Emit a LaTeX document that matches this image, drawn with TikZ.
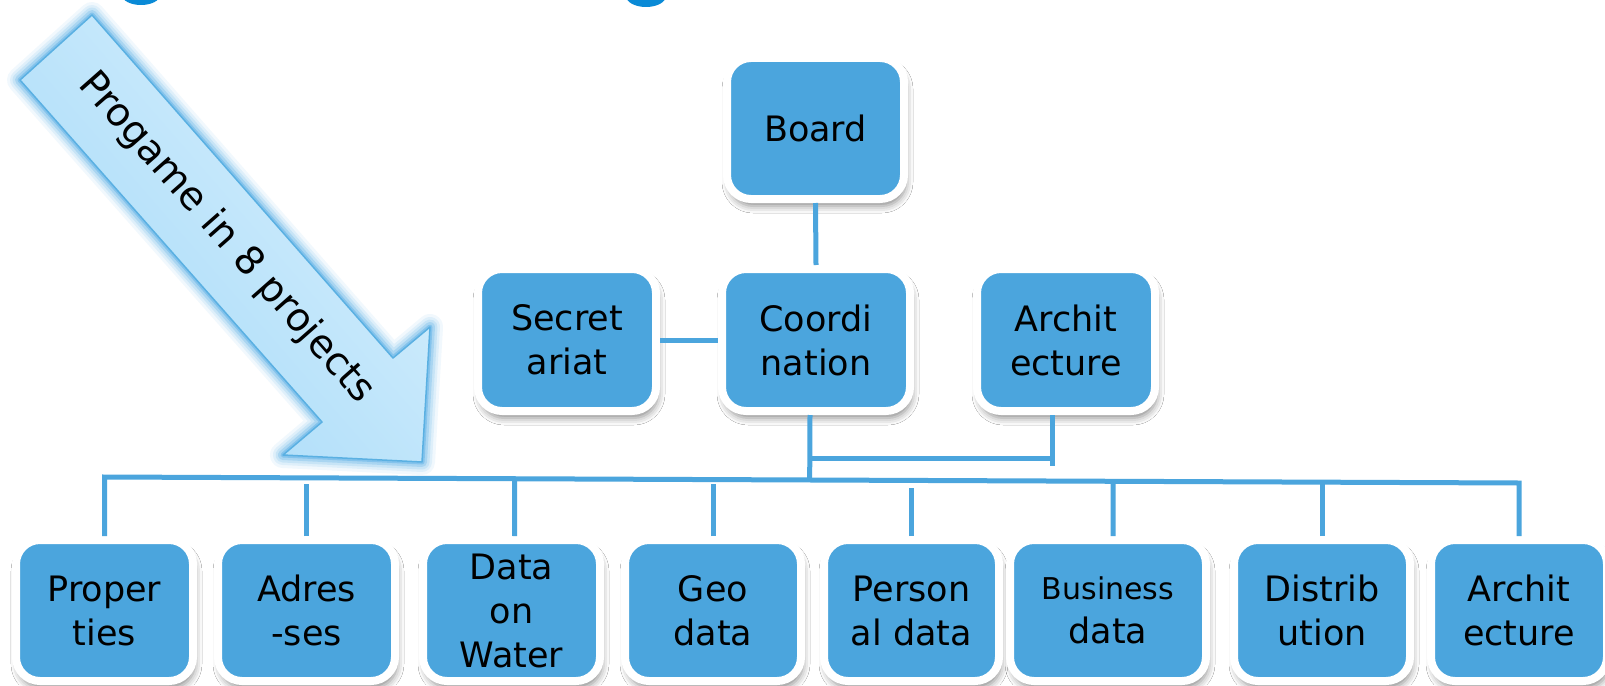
\documentclass[tikz,border=0pt]{standalone}
\usepackage{fontspec}
\setmainfont{DejaVu Sans}
\usetikzlibrary{shadows.blur,calc}
\definecolor{boxblue}{HTML}{4BA5DD}
\definecolor{arrowdark}{HTML}{A6DAF8}
\definecolor{arrowlight}{HTML}{D8F0FD}
\definecolor{arrowline}{HTML}{5AB0E2}
\definecolor{glowblue}{HTML}{3FA3E3}
\definecolor{titleblue}{HTML}{0A8AD6}
\begin{document}
\begin{tikzpicture}[x=1pt,y=-1pt,
  box/.style={rectangle, rounded corners=24pt, fill=boxblue, draw=white, line width=8pt,
    inner sep=0pt, align=center, text=black, font=\fontsize{35}{44}\selectfont,
    minimum width=178pt, minimum height=142pt,
    blur shadow={shadow xshift=2pt, shadow yshift=-7pt, shadow blur radius=7pt, shadow opacity=45}},
  conn/.style={draw=boxblue, line width=5pt}
  ]
\path[use as bounding box, fill=white] (0,0) rectangle (1605,685);

% cut-off title descenders
\fill[titleblue] (141,-5) ellipse [x radius=19pt, y radius=10pt];
\fill[titleblue] (646,-4) ellipse [x radius=20pt, y radius=11pt];

% big arrow with glow
\foreach \w/\o in {26/0.07,20/0.10,15/0.14,10/0.22,5/0.35}{
  \draw[glowblue, line width=\w pt, opacity=\o, line join=round]
    (92,15) -- (393,358) -- (430,327) -- (422,462) -- (283,455) -- (322,422) -- (20,80) -- cycle;
}
\shadedraw[top color=arrowlight, bottom color=arrowdark, shading angle=-49,
  draw=arrowline, line width=1.5pt, line join=round]
  (92,15) -- (393,358) -- (430,327) -- (422,462) -- (283,455) -- (322,422) -- (20,80) -- cycle;
\node[rotate=-48.6, font=\fontsize{39}{40}\selectfont, text=black, inner sep=0pt] (lbl) at (226,238) {Progame in 8 projects};

% top boxes
\node[box, minimum width=177pt, minimum height=141pt] (board) at (815.5,128.5) {Board};
\node[box] (secr) at (567,340) {Secret\\ariat};
\node[box, minimum width=188pt] (coord) at (816,340) {Coordi\\nation};
\node[box] (arch1) at (1066,340) {Archit\\ecture};

% bottom boxes
\node[box, minimum width=177pt, minimum height=141pt] (prop) at (104.5,610.5) {Proper\\ties};
\node[box, minimum width=177pt, minimum height=141pt] (adres) at (306.5,610.5) {Adres\\-ses};
\node[box, minimum width=177pt, minimum height=141pt] (water) at (511.5,610.5) {Data\\on\\Water};
\node[box, minimum width=176pt, minimum height=141pt] (geo) at (713,610.5) {Geo\\data};
\node[box, minimum width=175pt, minimum height=141pt] (pers) at (911.5,610.5) {Person\\al data};
\node[box, minimum width=196pt, minimum height=141pt] (busi) at (1108,610.5) {{\fontsize{30}{44}\selectfont Business}\\data};
\node[box, minimum width=176pt, minimum height=141pt] (distr) at (1322,610.5) {Distrib\\ution};
\node[box, minimum width=176pt, minimum height=141pt] (arch2) at (1519,610.5) {Archit\\ecture};

% connectors
\draw[conn] (board.south) -- (coord.north);
\draw[conn] (secr.east) -- (coord.west);
\draw[conn] (prop.north) -- ([yshift=59pt]prop.north) coordinate (busL)
  -- ([yshift=53pt]arch2.north) coordinate (busR) -- (arch2.north);
\coordinate (wdrop) at ([xshift=3pt]water.north);
\coordinate (bdrop) at ([xshift=5pt]busi.north);
\coordinate (cdrop) at ([xshift=-6pt]coord.south);
\coordinate (adrop) at ([xshift=-14pt]arch1.south);
\draw[conn] (wdrop) -- ($(busL)!(wdrop)!(busR)$);
\draw[conn] (bdrop) -- ($(busL)!(bdrop)!(busR)$);
\draw[conn] (cdrop) -- ($(busL)!(cdrop)!(busR)$);
\draw[conn] (adrop) -- ++(0,51);
\draw[conn] ($(cdrop)+(0,43)$) -- ($(adrop)+(0,43)$);
\draw[conn] (adres.north) -- ++(0,-52);
\draw[conn] (geo.north) -- ++(0,-52);
\draw[conn] (pers.north) -- ++(0,-48);
\draw[conn] (distr.north) -- ++(0,-52);
\end{tikzpicture}
\end{document}
